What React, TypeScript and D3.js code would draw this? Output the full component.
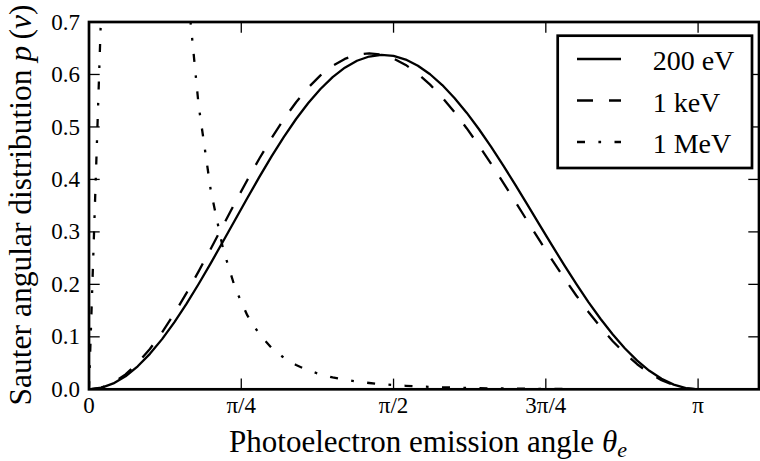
import React, { useEffect, useRef } from 'react';
import * as d3 from 'd3';

// emission angle samples, degrees (51 points over 0..180)
const angleDeg = [
  0, 3.6, 7.2, 10.8, 14.4, 18, 21.6, 25.2, 28.8, 32.4, 36, 39.6, 43.2, 46.8, 50.4, 54, 57.6,
  61.2, 64.8, 68.4, 72, 75.6, 79.2, 82.8, 86.4, 90, 93.6, 97.2, 100.8, 104.4, 108, 111.6,
  115.2, 118.8, 122.4, 126, 129.6, 133.2, 136.8, 140.4, 144, 147.6, 151.2, 154.8, 158.4,
  162, 165.6, 169.2, 172.8, 176.4, 180,
];

const p200eV = [
  0, 0.0028, 0.0112, 0.0249, 0.0438, 0.0676, 0.0956, 0.1276, 0.1628, 0.2007, 0.2405, 0.2816,
  0.3232, 0.3647, 0.4053, 0.4443, 0.4811, 0.5151, 0.5457, 0.5724, 0.595, 0.6129, 0.6261,
  0.6342, 0.6373, 0.6354, 0.6284, 0.6167, 0.6004, 0.5798, 0.5553, 0.5272, 0.4961, 0.4625,
  0.4268, 0.3896, 0.3515, 0.313, 0.2747, 0.2371, 0.2008, 0.1662, 0.1339, 0.1043, 0.0777,
  0.0546, 0.0353, 0.02, 0.0089, 0.0022, 0,
];

const p1keV = [
  0, 0.0032, 0.0128, 0.0285, 0.0501, 0.0769, 0.1085, 0.1442, 0.1833, 0.2248, 0.268, 0.312,
  0.356, 0.399, 0.4404, 0.4793, 0.515, 0.5471, 0.5749, 0.5982, 0.6165, 0.6297, 0.6377,
  0.6404, 0.6379, 0.6305, 0.6182, 0.6015, 0.5806, 0.5561, 0.5283, 0.4976, 0.4647, 0.43,
  0.394, 0.3572, 0.3202, 0.2833, 0.2472, 0.2122, 0.1788, 0.1474, 0.1182, 0.0917, 0.0682,
  0.0478, 0.0308, 0.0174, 0.0078, 0.002, 0,
];

const p1MeV = [
  0, 0.7226, 2.0522, 2.7818, 2.6862, 2.1704, 1.5978, 1.1255, 0.7803, 0.5411, 0.3784, 0.2681,
  0.1928, 0.1408, 0.1044, 0.0786, 0.0599, 0.0462, 0.0361, 0.0285, 0.0227, 0.0182, 0.0147,
  0.012, 0.0098, 0.0081, 0.0067, 0.0055, 0.0046, 0.0038, 0.0032, 0.0027, 0.0022, 0.0018,
  0.0015, 0.0013, 0.0011, 0.0009, 0.0007, 0.0006, 0.0005, 0.0004, 0.0003, 0.0002, 0.0001,
  0.0001, 0.0001, 0, 0, 0, 0,
];

const seriesNames = ['200 eV', '1 keV', '1 MeV'];
const xTickQuarters = [0, 1, 2, 3, 4];
const xTickLabels = ['0', 'π/4', 'π/2', '3π/4', 'π'];
const yTicks = [0, 0.1, 0.2, 0.3, 0.4, 0.5, 0.6, 0.7];

export default function App() {
  const svgRef = useRef<SVGSVGElement | null>(null);

  useEffect(() => {
    if (!svgRef.current) return;
    const svg = d3.select(svgRef.current);
    svg.selectAll('*').remove();

    const font = '"Liberation Serif", "Times New Roman", serif';
    const left = 89, right = 759, top = 22, bottom = 389.3;

    const x = d3.scaleLinear().domain([0, 1.1 * Math.PI]).range([left, right]);
    const y = d3.scaleLinear().domain([0, 0.7]).range([bottom, top]);

    const theta = angleDeg.map((d) => (d * Math.PI) / 180);
    const series = [
      { name: seriesNames[0], values: p200eV, dash: null },
      { name: seriesNames[1], values: p1keV, dash: '16 16' },
      { name: seriesNames[2], values: p1MeV, dash: '8 13.4 2.7 13.4' },
    ];

    svg.append('defs')
      .append('clipPath')
      .attr('id', 'plotclip')
      .append('rect')
      .attr('x', left)
      .attr('y', top)
      .attr('width', right - left)
      .attr('height', bottom - top);

    const line = d3.line<number>()
      .x((_, i) => x(theta[i]))
      .y((d) => y(d));

    // curves
    const curves = svg.append('g').attr('clip-path', 'url(#plotclip)');
    series.forEach((s) => {
      curves.append('path')
        .attr('d', line(s.values))
        .attr('fill', 'none')
        .attr('stroke', '#000')
        .attr('stroke-width', 2.3)
        .attr('stroke-dasharray', s.dash)
        .attr('stroke-linejoin', 'round');
    });

    // ticks (inside, all four sides)
    const tickLen = 10.7;
    const ticks = svg.append('g').attr('stroke', '#000').attr('stroke-width', 1.3);
    xTickQuarters.forEach((q) => {
      const px = x((q * Math.PI) / 4);
      ticks.append('line').attr('x1', px).attr('x2', px).attr('y1', bottom).attr('y2', bottom - tickLen);
      ticks.append('line').attr('x1', px).attr('x2', px).attr('y1', top).attr('y2', top + tickLen);
    });
    yTicks.forEach((v) => {
      const py = y(v);
      ticks.append('line').attr('x1', left).attr('x2', left + tickLen).attr('y1', py).attr('y2', py);
      ticks.append('line').attr('x1', right).attr('x2', right - tickLen).attr('y1', py).attr('y2', py);
    });

    // frame
    svg.append('rect')
      .attr('x', left)
      .attr('y', top)
      .attr('width', right - left)
      .attr('height', bottom - top)
      .attr('fill', 'none')
      .attr('stroke', '#000')
      .attr('stroke-width', 2.7);

    // tick labels
    svg.append('g')
      .selectAll('text')
      .data(xTickQuarters)
      .join('text')
      .attr('x', (q) => x((q * Math.PI) / 4))
      .attr('y', 413)
      .attr('text-anchor', 'middle')
      .attr('font-family', font)
      .attr('font-size', 23)
      .text((_, i) => xTickLabels[i]);

    svg.append('g')
      .selectAll('text')
      .data(yTicks)
      .join('text')
      .attr('x', 80)
      .attr('y', (d) => y(d))
      .attr('dy', '0.33em')
      .attr('text-anchor', 'end')
      .attr('font-family', font)
      .attr('font-size', 23)
      .text((d) => d3.format('.1f')(d));

    // axis labels
    const xl = svg.append('text')
      .attr('x', 428)
      .attr('y', 452)
      .attr('text-anchor', 'middle')
      .attr('font-family', font)
      .attr('font-size', 31);
    xl.append('tspan').text('Photoelectron emission angle ');
    xl.append('tspan').attr('font-style', 'italic').text('θ');
    xl.append('tspan').attr('font-style', 'italic').attr('font-size', 22).attr('dy', 5).text('e');

    const yl = svg.append('text')
      .attr('transform', 'translate(31, 205) rotate(-90)')
      .attr('text-anchor', 'middle')
      .attr('font-family', font)
      .attr('font-size', 31.5);
    yl.append('tspan').text('Sauter angular distribution ');
    yl.append('tspan').attr('font-style', 'italic').text('p');
    yl.append('tspan').text('\u2009(');
    yl.append('tspan').attr('font-style', 'italic').text('ν');
    yl.append('tspan').text(')');

    // legend
    const lg = svg.append('g');
    lg.append('rect')
      .attr('x', 557.7)
      .attr('y', 35.7)
      .attr('width', 752 - 557.7)
      .attr('height', 168 - 35.7)
      .attr('fill', '#fff')
      .attr('stroke', '#000')
      .attr('stroke-width', 2.7);
    series.forEach((s, i) => {
      const ry = 59 + i * 41.5;
      lg.append('line')
        .attr('x1', 577)
        .attr('x2', 621)
        .attr('y1', ry)
        .attr('y2', ry)
        .attr('stroke', '#000')
        .attr('stroke-width', 2.3)
        .attr('stroke-dasharray', s.dash);
      lg.append('text')
        .attr('x', 652.7)
        .attr('y', ry + 11)
        .attr('font-family', font)
        .attr('font-size', 28)
        .text(s.name);
    });
  }, []);

  return (
    <svg
      ref={svgRef}
      width={760}
      height={461}
      style={{ position: 'absolute', left: 0, top: 0, background: '#fff' }}
    />
  );
}
